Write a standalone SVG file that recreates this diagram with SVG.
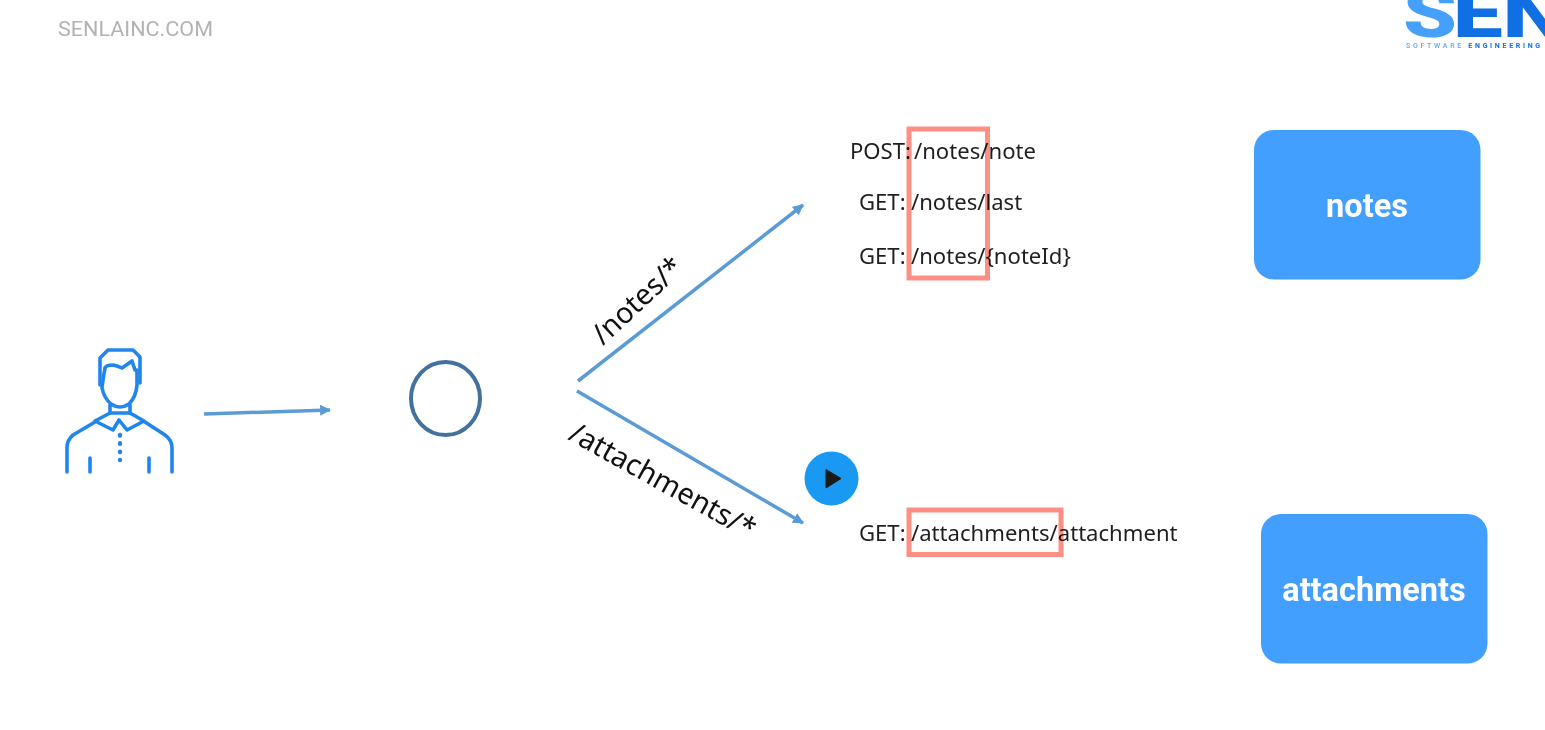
<svg xmlns="http://www.w3.org/2000/svg" width="1545" height="730" viewBox="0 0 1545 730">
<style>
.t{font-family:"Noto Sans","Open Sans",sans-serif;fill:#1f1f1f}
.api{font-size:22.100px}
.lbl{font-size:29px;fill:#111}
.box{fill:#439ffe}
.boxt{font-family:Roboto,"Liberation Sans",sans-serif;font-weight:700;font-size:32.500px;fill:#fff;text-anchor:middle}
.hl{fill:none;stroke:#fe8f84;stroke-width:5;mix-blend-mode:multiply}
.conn{stroke:#5b9bd5;stroke-width:3.500;fill:none}
.p{fill:none;stroke:#2186ec;stroke-width:3.600;stroke-linecap:round;stroke-linejoin:round}
.dots{stroke-width:4.400;stroke-dasharray:.5 7.800}
.logo{font-family:Roboto,"Liberation Sans",sans-serif;font-weight:900;font-size:66px}
</style>
<defs>
<marker id="ah" viewBox="0 0 10 10" refX="9" refY="5" markerWidth="11" markerHeight="11" markerUnits="userSpaceOnUse" orient="auto"><path d="M0 0L10 5L0 10Z" fill="#5b9bd5"/></marker>
</defs>
<rect width="1545" height="730" fill="#fff"/>
<text x="58" y="36" font-family="Roboto,'Liberation Sans',sans-serif" font-size="21" fill="#b3b3b3" textLength="155" lengthAdjust="spacingAndGlyphs">SENLAINC.COM</text>
<g id="logo">
<text class="logo" x="1403" y="37" fill="#44a0fb" textLength="54" lengthAdjust="spacingAndGlyphs">S</text>
<text class="logo" x="1453" y="37" fill="#0f6fe3" textLength="112" lengthAdjust="spacingAndGlyphs">EN</text>
<text x="1406" y="48" font-family="Roboto,'Liberation Sans',sans-serif" font-size="7" font-weight="500" letter-spacing="2.700" fill="#5aa8f5">SOFTWARE <tspan font-weight="700" fill="#0f6fe3">ENGINEERING</tspan></text>
</g>
<g id="user">
<path class="p" d="M100 385V358L108 350H133L140 357V383"/>
<path class="p" d="M105 368Q106 365 113 365Q118 366 122 368L132 361L135 370"/>
<path class="p" d="M105 368Q103 378 102 388Q104 398 111 404Q120 410 129 404Q136 397 137 385V370"/>
<path class="p" d="M110 405V413L95 421L113 430L119 420L127 430L144 421L130 413V405"/>
<path class="p" d="M110 413H130"/>
<path class="p" d="M95 422L73 435Q67 440 67 448V472M145 422L165 435Q172 440 172 448V472"/>
<path class="p" d="M90 458V472M149 458V472"/>
<path class="p dots" d="M120 435V460"/>
</g>
<g id="gateway"><ellipse cx="445.500" cy="398.500" rx="34.500" ry="36.500" fill="none" stroke="#41719c" stroke-width="4"/></g>
<g id="connectors">
<path class="conn" d="M204 414L330 410" marker-end="url(#ah)"/>
<path class="conn" d="M578 381L803 205" marker-end="url(#ah)"/>
<path class="conn" d="M577 391L803 523" marker-end="url(#ah)"/>
</g>
<g id="route-notes"><text class="t lbl" transform="translate(603 346) rotate(-43)" textLength="112" lengthAdjust="spacingAndGlyphs">/notes/*</text></g>
<g id="route-attachments"><text class="t lbl" transform="translate(567 439) rotate(29)" textLength="208" lengthAdjust="spacingAndGlyphs">/attachments/*</text></g>
<g id="api-notes">
<text class="t api" y="159"><tspan x="850">POST:</tspan><tspan x="914">/notes/note</tspan></text>
<text class="t api" y="210"><tspan x="859">GET:</tspan><tspan x="911">/notes/last</tspan></text>
<text class="t api" y="264"><tspan x="859">GET:</tspan><tspan x="911">/notes/{noteId}</tspan></text>
<rect class="hl" x="909" y="129" width="78.500" height="149"/>
</g>
<g id="api-attachments">
<text class="t api" y="541"><tspan x="859">GET:</tspan><tspan x="911">/attachments/attachment</tspan></text>
<rect class="hl" x="909" y="510" width="152" height="44.500"/>
</g>
<g id="notes"><rect class="box" x="1254" y="130" width="226.500" height="149.500" rx="20"/><text class="boxt" x="1367" y="217">notes</text></g>
<g id="attachments"><rect class="box" x="1261" y="514" width="226.500" height="149.500" rx="20"/><text class="boxt" x="1374" y="601">attachments</text></g>
<g id="play"><circle cx="831.500" cy="478.500" r="27" fill="#1a99f2"/><path d="M826 469.500L841 478.500L826 488Z" fill="#1a1a1a" stroke="#1a1a1a" stroke-linejoin="round"/></g>
</svg>
